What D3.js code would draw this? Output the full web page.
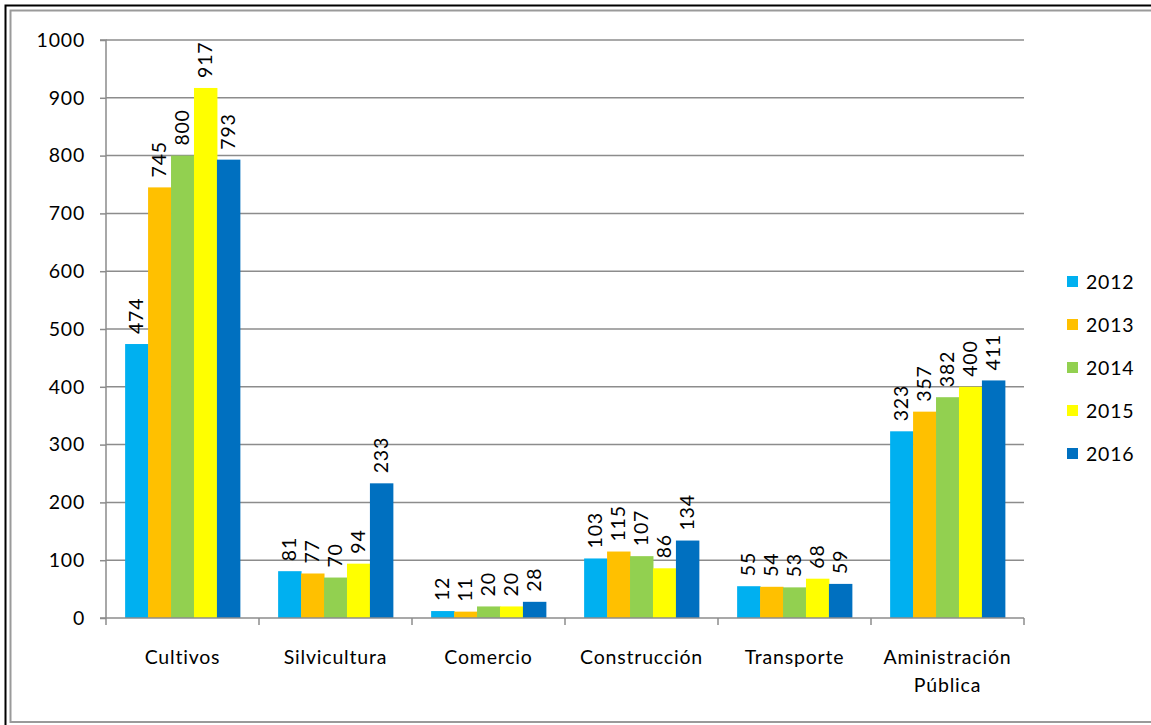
<!DOCTYPE html>
<html><head><meta charset="utf-8">
<script src="https://cdn.jsdelivr.net/npm/d3@7"></script>
<style>body{margin:0;background:#fff}svg{display:block}text{font-family:Lato,"Open Sans",sans-serif;letter-spacing:0.8px}</style>
</head><body>
<svg id="c" width="1151" height="725"></svg>
<script>
const categories = ["Cultivos","Silvicultura","Comercio","Construcción","Transporte","Aministración Pública"];
const years = ["2012","2013","2014","2015","2016"];
const v2012 = [474, 81, 12, 103, 55, 323];
const v2013 = [745, 77, 11, 115, 54, 357];
const v2014 = [800, 70, 20, 107, 53, 382];
const v2015 = [917, 94, 20, 86, 68, 400];
const v2016 = [793, 233, 28, 134, 59, 411];
const yTicks = [0,100,200,300,400,500,600,700,800,900,1000];
const colors = ["#00B0F0","#FFC000","#92D050","#FFFF00","#0070C0"];
const series = [v2012, v2013, v2014, v2015, v2016];

(function(){
const FS = 19.5;
const svg = d3.select("#c");
svg.append("rect").attr("x",5.5).attr("y",5.5).attr("width",1160).attr("height",740).attr("fill","none").attr("stroke","#000").attr("stroke-width",2);
svg.append("rect").attr("x",10.5).attr("y",10.5).attr("width",1160).attr("height",711.5).attr("fill","none").attr("stroke","#9a9a9a").attr("stroke-width",2);

const pl=106, pr=1024, pt=40, pb=618;
const x0 = d3.scaleBand().domain(categories).range([pl,pr]).paddingInner(0.25).paddingOuter(0.125);
const x1 = d3.scaleBand().domain(years).range([0,x0.bandwidth()]);
const y = d3.scaleLinear().domain([0,1000]).range([pb,pt]);

svg.append("g").selectAll("line").data(yTicks.filter(d=>d>0)).join("line")
  .attr("x1",pl).attr("x2",pr).attr("y1",d=>y(d)).attr("y2",d=>y(d))
  .attr("stroke","#8c8c8c").attr("stroke-width",1.5);

const ya = svg.append("g").attr("transform",`translate(${pl},0)`).call(d3.axisLeft(y).tickValues(yTicks).tickFormat(d3.format("d")).tickSize(6).tickPadding(15));
ya.select(".domain").attr("stroke","#8c8c8c").attr("stroke-width",1.5).attr("d",`M-6,${pt}H0V${pb}`);
ya.selectAll(".tick line").attr("stroke","#8c8c8c").attr("stroke-width",1.5);
ya.selectAll(".tick text").attr("font-size",FS).attr("fill","#000").attr("font-family","Lato,sans-serif");

const g = svg.append("g");
years.forEach((yr,i)=>{
  const data = categories.map((c,j)=>({c, v:series[i][j]}));
  g.selectAll(null).data(data).join("rect")
    .attr("x",d=>x0(d.c)+x1(yr)).attr("width",x1.bandwidth()+0.5)
    .attr("y",d=>y(d.v)).attr("height",d=>y(0)-y(d.v)).attr("fill",colors[i]);
  g.selectAll(null).data(data).join("text")
    .attr("transform",d=>`translate(${x0(d.c)+x1(yr)+x1.bandwidth()/2},${y(d.v)-10}) rotate(-90)`)
    .attr("dy","0.35em").attr("font-size",FS).attr("fill","#000").text(d=>d.v);
});

const xa = svg.append("g");
xa.append("line").attr("x1",pl-6).attr("x2",pr).attr("y1",pb).attr("y2",pb).attr("stroke","#8c8c8c").attr("stroke-width",1.5);
d3.range(categories.length+1).forEach(i=>{
  const xb = pl + x0.step()*i;
  xa.append("line").attr("x1",xb).attr("x2",xb).attr("y1",pb).attr("y2",pb+7).attr("stroke","#8c8c8c").attr("stroke-width",1.5);
});
const xlab = {"Aministración Pública":["Aministración","Pública"]};
categories.forEach(c=>{
  const lines = xlab[c] || [c];
  const t = xa.append("text").attr("text-anchor","middle").attr("font-size",FS).attr("fill","#000");
  lines.forEach((l,k)=>t.append("tspan").attr("x",x0(c)+x0.bandwidth()/2).attr("y",664+k*28).text(l));
});

const lg = svg.append("g");
years.forEach((yr,i)=>{
  const yy = 282 + i*43;
  lg.append("rect").attr("x",1067).attr("y",yy-6).attr("width",11).attr("height",11).attr("fill",colors[i]);
  lg.append("text").attr("x",1086).attr("y",yy).attr("dy","0.35em").attr("font-size",FS).attr("fill","#000").text(yr);
});
})();
</script>
</body></html>
